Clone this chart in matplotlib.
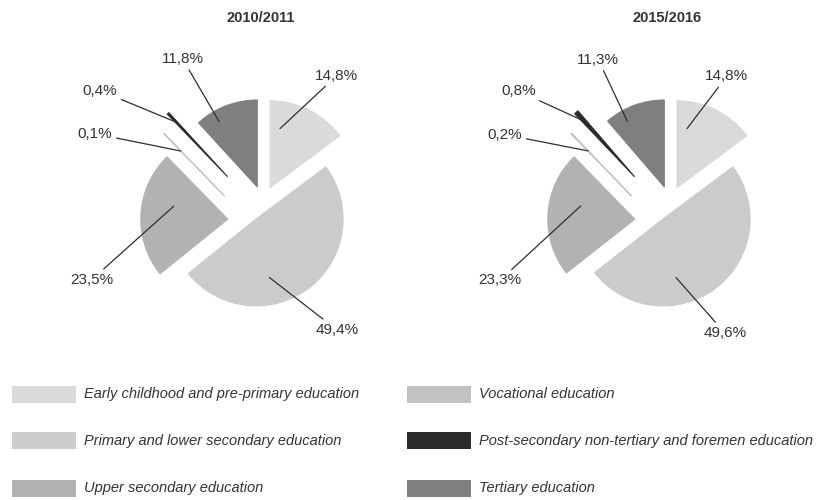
import numpy as np
import matplotlib
matplotlib.use('Agg')
import matplotlib.pyplot as plt
from matplotlib.patches import Rectangle

plt.rcParams['font.family'] = ['Liberation Sans', 'DejaVu Sans']

categories = ['Early childhood and pre-primary education',
              'Primary and lower secondary education',
              'Upper secondary education',
              'Vocational education',
              'Post-secondary non-tertiary and foremen education',
              'Tertiary education']
years = ['2010/2011', '2015/2016']
share_2010 = [14.8, 49.4, 23.5, 0.1, 0.4, 11.8]
share_2015 = [14.8, 49.6, 23.3, 0.2, 0.8, 11.3]

colors = ['#dadada', '#cbcbcb', '#b2b2b2', '#c2c2c2', '#2b2b2b', '#7f7f80']
text_col = '#333333'

W, H = 833, 500
R = 87


def px(x, y):
    # picture pixels (y down) -> data coords (y up)
    return x, H - y


# each slice pulled out of the pie (in radius units)
shift = [(0.077, 0.152), (-0.083, -0.206), (-0.408, -0.209),
         (-0.446, 0.057), (-0.41, 0.278), (-0.069, 0.161)]
# where the leader line touches the slice
anchor_frac = [0.69, 0.69, 0.64, 0.72, 0.86, 0.87]
anchor_turn = [-17, 25, 10, 0, 0, -9]

centers = [px(263.3, 201), px(670.3, 201)]
label_off = [
    [(73.4, -125.3), (73.4, 128.7), (-171.6, 78.7), (-168.3, -67.3), (-163.3, -110.3), (-80.6, -142)],
    [(56.4, -124.7), (54.7, 132), (-170.3, 79.3), (-165.3, -66.4), (-152, -110), (-72, -141.4)],
]

fig = plt.figure(figsize=(8.33, 5), dpi=100)
ax = fig.add_axes([0, 0, 1, 1])

for k, vals in enumerate([share_2010, share_2015]):
    c = centers[k]
    wedges, _ = ax.pie(vals, startangle=90, counterclock=False, radius=R,
                       center=c, colors=colors, wedgeprops=dict(linewidth=0.8))
    for i, w in enumerate(wedges):
        w.set_edgecolor(w.get_facecolor())
        wc = (c[0] + shift[i][0] * R, c[1] + shift[i][1] * R)
        w.set_center(wc)
        th = np.radians((w.theta1 + w.theta2) / 2 - anchor_turn[i])
        xy = (wc[0] + anchor_frac[i] * R * np.cos(th), wc[1] + anchor_frac[i] * R * np.sin(th))
        dx, dy = label_off[k][i]
        lab = '{:.1f}'.format(vals[i]).replace('.', ',') + '%'
        ax.annotate(lab, xy=xy, xytext=(c[0] + dx, c[1] - dy), ha='center', va='center',
                    fontsize=11, color=text_col,
                    arrowprops=dict(arrowstyle='-', color='#2e2e2e', lw=0.9, shrinkA=1, shrinkB=0))
    ax.text(c[0] - 3, H - 18, years[k], ha='center', va='center', fontsize=10.5,
            fontweight='bold', color=text_col)

# legend, two columns
col_x = [12, 407]
row_y = [394, 440.5, 488]
for i, name in enumerate(categories):
    x0 = col_x[i // 3]
    yc = row_y[i % 3]
    ax.add_patch(Rectangle(px(x0, yc + 8.5), 64, 17, facecolor=colors[i], edgecolor='none'))
    ax.text(*px(x0 + 72, yc), name, ha='left', va='center', fontsize=10.5,
            style='italic', color=text_col)

ax.set_xlim(0, W)
ax.set_ylim(0, H)
ax.set_aspect('auto')
ax.axis('off')

fig.savefig('out.png', dpi=100)
